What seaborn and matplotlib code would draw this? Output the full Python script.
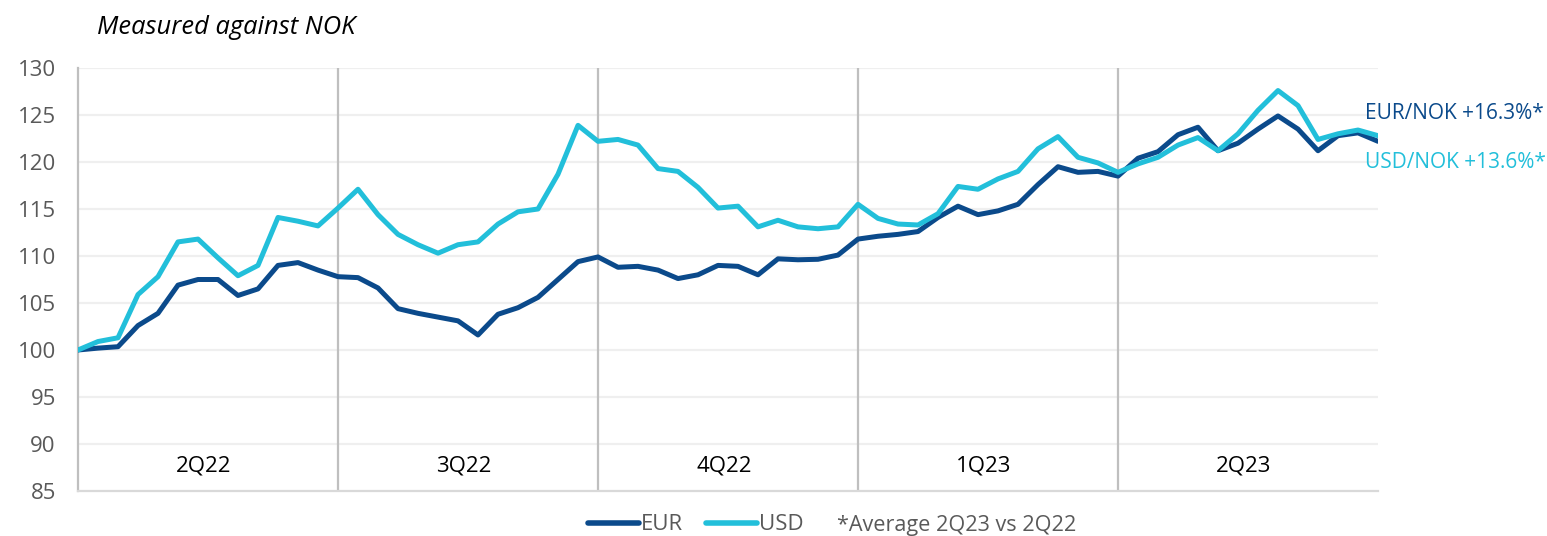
import matplotlib
matplotlib.use("Agg")
import matplotlib.pyplot as plt
from matplotlib.lines import Line2D
import seaborn as sns
import pandas as pd

# ---- data (weekly index, 2Q22 start = 100) ----
eur = [100.0, 100.2, 100.35, 102.6, 103.9, 106.9, 107.5, 107.5, 105.8, 106.5, 109.0, 109.3, 108.5,
       107.8, 107.7, 106.6, 104.4, 103.9, 103.5, 103.1, 101.6, 103.8, 104.5, 105.6, 107.5, 109.4,
       109.9, 108.8, 108.9, 108.5, 107.6, 108.0, 109.0, 108.9, 108.0, 109.7, 109.6, 109.65, 110.1,
       111.8, 112.1, 112.3, 112.6, 114.1, 115.3, 114.4, 114.8, 115.5, 117.6, 119.5, 118.9, 119.0,
       118.5, 120.4, 121.1, 122.9, 123.7, 121.2, 122.0, 123.5, 124.9, 123.5, 121.2, 122.8, 123.1,
       122.2]
usd = [100.0, 100.9, 101.3, 105.9, 107.8, 111.5, 111.8, 109.8, 107.9, 109.0, 114.1, 113.7, 113.2,
       115.1, 117.1, 114.4, 112.3, 111.2, 110.3, 111.2, 111.5, 113.4, 114.7, 115.0, 118.7, 123.9,
       122.2, 122.4, 121.8, 119.3, 119.0, 117.3, 115.1, 115.3, 113.1, 113.8, 113.1, 112.9, 113.1,
       115.5, 114.0, 113.4, 113.3, 114.5, 117.4, 117.1, 118.2, 119.0, 121.4, 122.7, 120.5, 119.9,
       118.9, 119.8, 120.5, 121.8, 122.6, 121.2, 123.0, 125.5, 127.6, 126.0, 122.4, 123.0, 123.4,
       122.8]
weeks = list(range(len(eur)))
quarters = ["2Q22", "3Q22", "4Q22", "1Q23", "2Q23"]
quarter_bounds = [0, 13, 26, 39, 52, 65]
y_ticks = [85, 90, 95, 100, 105, 110, 115, 120, 125, 130]
annotations = ["EUR/NOK +16.3%*", "USD/NOK +13.6%*"]
footnote = "*Average 2Q23 vs 2Q22"
title = "Measured against NOK"

EUR_C = "#0B4A8B"
USD_C = "#22BFDA"
GRAY_T = "#595959"

df = pd.DataFrame({
    "week": weeks * 2,
    "value": eur + usd,
    "cur": ["EUR"] * len(eur) + ["USD"] * len(usd),
})

sns.set_theme(style="white")
plt.rcParams["font.family"] = ["Open Sans", "DejaVu Sans"]

fig = plt.figure(figsize=(15.47, 5.36), dpi=100)
ax = fig.add_axes([78 / 1547, 45 / 536, 1300 / 1547, 423 / 536])

for y in y_ticks[1:]:
    ax.axhline(y, color="#EFEFEF", lw=1.6, zorder=0)
for b in quarter_bounds[1:-1]:
    ax.axvline(b, color="#BFBFBF", lw=1.6, zorder=1)

sns.lineplot(data=df, x="week", y="value", hue="cur", hue_order=["EUR", "USD"],
             palette={"EUR": EUR_C, "USD": USD_C}, linewidth=3.6, legend=False,
             ax=ax, zorder=3)

ax.set_xlim(0, 65)
ax.set_ylim(85, 130)
ax.set_yticks(y_ticks)
ax.set_yticklabels([str(v) for v in y_ticks], fontsize=16, color=GRAY_T)
ax.set_xticks(quarter_bounds)
ax.set_xticklabels([])
ax.tick_params(axis="x", length=7, width=1.5, color="#BFBFBF", direction="out")
ax.tick_params(axis="y", length=0, pad=16)
ax.set_xlabel("")
ax.set_ylabel("")
for s in ["top", "right"]:
    ax.spines[s].set_visible(False)
ax.spines["left"].set_color("#BFBFBF")
ax.spines["left"].set_linewidth(1.6)
ax.spines["bottom"].set_color("#D9D9D9")
ax.spines["bottom"].set_linewidth(1.6)

for i, q in enumerate(quarters):
    cx = (quarter_bounds[i] + quarter_bounds[i + 1]) / 2 - 0.2
    ax.text(cx, 87.7, q, ha="center", va="center", fontsize=16, color="black")

ax.text(64.35, 125.2, annotations[0], ha="left", va="center", fontsize=15,
        color=EUR_C, clip_on=False)
ax.text(64.35, 119.9, annotations[1], ha="left", va="center", fontsize=15,
        color=USD_C, clip_on=False)

fig.text(97 / 1547, 1 - 27 / 536, title, ha="left", va="center", fontsize=18.4,
         style="italic", color="black")

handles = [Line2D([0], [0], color=EUR_C, lw=4, solid_capstyle="round"),
           Line2D([0], [0], color=USD_C, lw=4, solid_capstyle="round")]
fig.legend(handles, ["EUR", "USD"], loc="center left",
           bbox_to_anchor=(588 / 1547, 11 / 536), ncol=2, frameon=False,
           fontsize=16, handlelength=2.3, handletextpad=0.1, columnspacing=1.0,
           borderpad=0, borderaxespad=0, labelcolor=GRAY_T)
fig.text(837 / 1547, 11 / 536, footnote, ha="left", va="center", fontsize=15.6,
         color=GRAY_T)

fig.savefig("out.png", dpi=100)
